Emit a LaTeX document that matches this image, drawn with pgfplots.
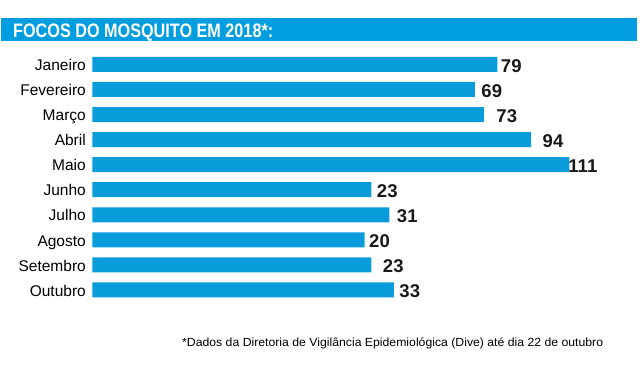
\documentclass[border=0pt]{standalone}
\usepackage{pgfplots}
\pgfplotsset{compat=1.18}
\usepackage{pgfplotstable}
\usepackage{graphicx}
\usepackage{fontspec}
\setmainfont{Liberation Sans}
\definecolor{titleblue}{RGB}{0,158,224}
\definecolor{barblue}{RGB}{8,156,219}
\pgfplotstableread{
y v dx
0 79 3.5
1 69 6.5
2 73 12.5
3 94 11.5
4 111 -1
5 23 5.5
6 31 7.5
7 20 4.5
8 23 11.5
9 33 5.5
}\focos
\begin{document}
\begin{tikzpicture}[x=1pt,y=1pt]
\path[use as bounding box] (0,0) rectangle (640,375);
\fill[titleblue] (1,334) rectangle (637,357);
\node[anchor=base west, inner sep=0pt, text=white, font=\bfseries\fontsize{19.5}{19.5}\selectfont] at (13,337) {\resizebox{260pt}{\height}{FOCOS DO MOSQUITO EM 2018*:}};
\node[anchor=base west, inner sep=0pt, text=black, font=\fontsize{11.8}{11.8}\selectfont] at (182,28.3) {\resizebox{421pt}{\height}{*Dados da Diretoria de Vigilância Epidemiológica (Dive) até dia 22 de outubro}};
\begin{axis}[
  at={(92.5pt,72.5pt)}, anchor=south west,
  scale only axis, width=540pt, height=250.6pt,
  xmin=0, xmax=240, ymin=-0.5, ymax=9.5,
  y dir=reverse,
  axis line style={draw=none},
  tick style={draw=none},
  xtick=\empty,
  ytick={0,...,9},
  yticklabels={Janeiro,Fevereiro,Março,Abril,Maio,Junho,Julho,Agosto,Setembro,Outubro},
  yticklabel style={font=\fontsize{15.5}{15.5}\selectfont, anchor=base east, inner sep=0pt, xshift=-6.5pt, yshift=-6.2pt},
  clip=false,
]
\addplot[xbar, bar width=15pt, fill=barblue, draw=none,
  x filter/.expression={x+100.9},
  point meta=explicit symbolic,
  visualization depends on={\thisrow{dx} \as \dx},
  nodes near coords={\pgfplotspointmeta},
  nodes near coords style={anchor=base west, inner sep=0pt, xshift=\dx pt, yshift=-7.8pt, font=\bfseries\fontsize{18.5}{18.5}\selectfont, text=black!90},
] table[x=v, y=y, meta=v] {\focos};
\end{axis}
\end{tikzpicture}
\end{document}
